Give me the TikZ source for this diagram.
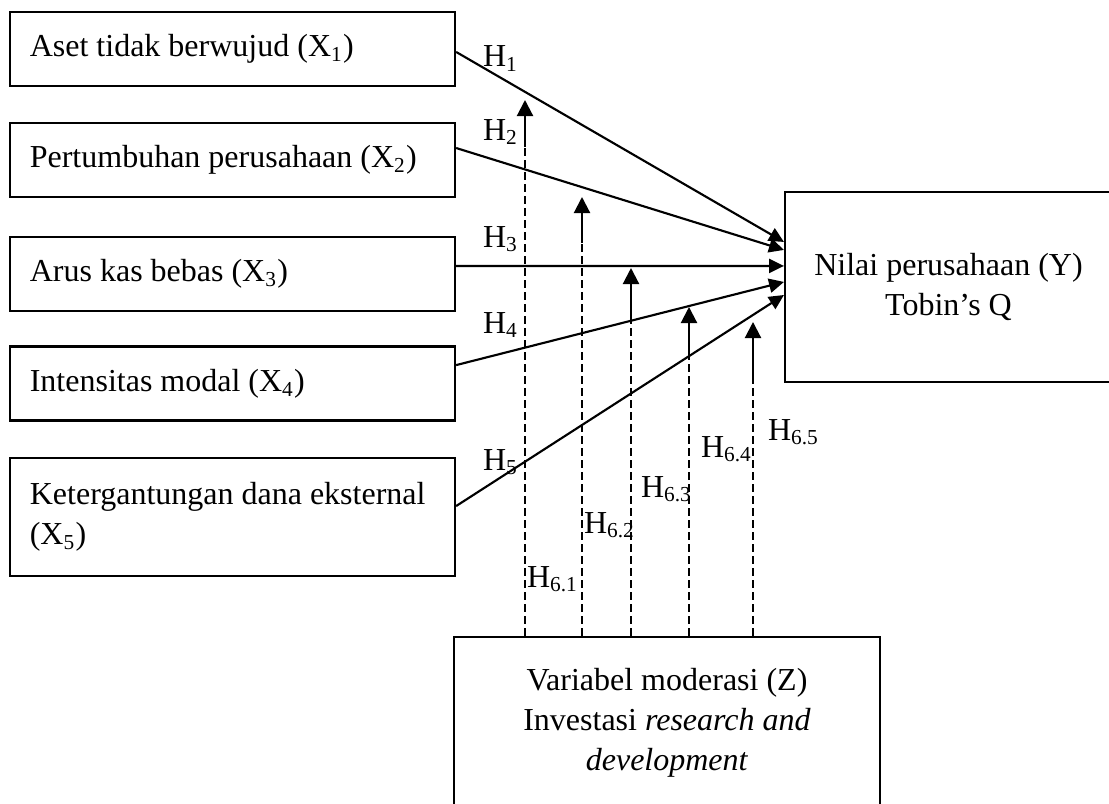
\documentclass[tikz,border=0pt]{standalone}
\usepackage{fontspec}
\setmainfont{Liberation Serif}
\usetikzlibrary{arrows.meta}

\begin{document}
\begin{tikzpicture}[
  x=0.375pt, y=-0.375pt,
  line width=0.8pt,
  font=\fontsize{12}{15}\selectfont,
  variable/.style={draw, align=flush left, text width=152pt, inner xsep=7.45pt,
    minimum width=166.9pt, minimum height=#1},
  variable/.default=27.75pt,
  outcome/.style={draw, align=center, minimum width=122.6pt, minimum height=71.25pt},
  moderator/.style={draw, align=center, minimum width=159.75pt, minimum height=64.5pt},
  hypothesis/.style={-{Triangle[length=5.6pt,width=5.3pt]}},
  moderation/.style={-{Triangle[length=6pt,width=6pt]}},
  moderation line/.style={line width=0.6pt, dash pattern=on 3pt off 1.5pt},
  hlabel/.style={inner sep=0pt, anchor=base west}
]
\useasboundingbox (0,0) rectangle (1109,803);
\clip (0,0) rectangle (1109,803);
\fill[white] (0,0) rectangle (1109,803);

\node[variable] (x1) at (232.5,49) {Aset tidak berwujud (X\textsubscript{1})};
\node[variable] (x2) at (232.5,160) {Pertumbuhan perusahaan (X\textsubscript{2})};
\node[variable] (x3) at (232.5,274) {Arus kas bebas (X\textsubscript{3})};
\node[variable] (x4) at (232.5,383.5) {Intensitas modal (X\textsubscript{4})};
\node[variable=44.25pt] (x5) at (232.5,517) {Ketergantungan dana eksternal\\(X\textsubscript{5})};

\node[outcome] (y) at (948.5,287) {Nilai perusahaan (Y)\\Tobin's Q};
\node[moderator] (z) at (667,723) {Variabel moderasi (Z)\\Investasi \textit{research and}\\\textit{development}};

% direct effects
\foreach \i/\from/\to/\ly in {1/-1.1/16.9/67, 2/4.5/13.9/140, 3/3/7.9/247, 4/6.9/1.9/333, 5/4.1/-3/470} {
  \draw[hypothesis] ([yshift=\from pt]x\i.east) -- ([yshift=\to pt]y.west);
  \node[hlabel] (h\i) at (482,\ly) {H\textsubscript{\i}};
}

% moderation
\foreach \i/\xx/\tip/\kink/\lx/\ly in {1/525/100/147/526/587, 2/582/197/243/583/533,
    3/631/268/320/640/497, 4/689/307/355/700/457, 5/753/322/378/767/440} {
  \coordinate (k\i) at (\xx,\kink);
  \coordinate (t\i) at (\xx,\tip);
  \draw[moderation line] (z.north -| k\i) -- (k\i);
  \draw[moderation] (k\i) -- (t\i);
  \node[hlabel] (h6\i) at (\lx,\ly) {H\textsubscript{6.\i}};
}
\end{tikzpicture}
\end{document}
